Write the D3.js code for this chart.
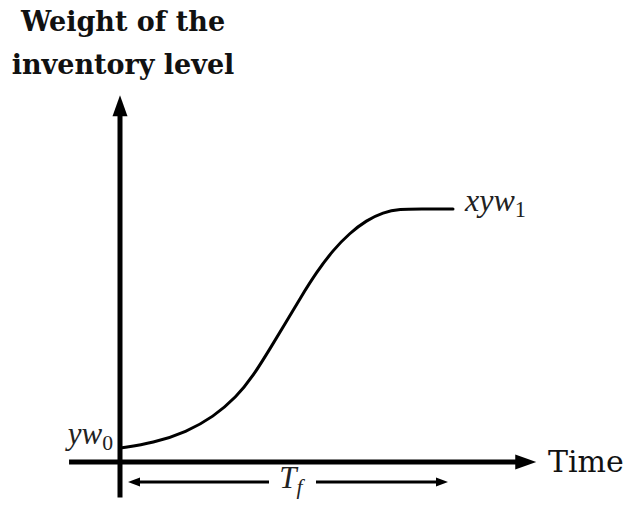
<!DOCTYPE html>
<html>
<head>
<meta charset="utf-8">
<script src="https://cdn.jsdelivr.net/npm/d3@7"></script>
<style>
  html, body { margin: 0; padding: 0; background: #fff; }
  svg { display: block; }
</style>
</head>
<body>
<svg id="chart" width="626" height="508"></svg>
<script>
// Normalised time (0 = start, 1 = end of ramp) and inventory weight (1 = plateau level)
const timePoints   = [0, 0.10, 0.20, 0.28, 0.35, 0.40, 0.45, 0.50, 0.54, 0.59, 0.64, 0.69, 0.74, 0.79, 0.84, 0.90, 1.00];
const weightPoints = [0.055, 0.075, 0.119, 0.178, 0.257, 0.340, 0.447, 0.555, 0.645, 0.750, 0.838, 0.905, 0.955, 0.987, 1.0, 1.0, 1.0];

// Axis extents and the span covered by the T_f arrow, in the same units
const timeAxisExtent   = [-0.153, 1.25];
const weightAxisExtent = [-0.14, 1.45];
const tfSpan           = [0, 0.985];

const titleLines = ["Weight of the", "inventory level"];
const timeLabel  = "Time";

const svg = d3.select("#chart");

const x = d3.scaleLinear().domain([0, 1]).range([120, 453]);
const y = d3.scaleLinear().domain([0, 1]).range([462, 209]);

const ink = "#000";

// filled arrowhead triangle pointing in direction (dx, dy)
function arrowHead(g, tipX, tipY, dx, dy, len, half) {
  const bx = tipX - dx * len, by = tipY - dy * len;
  const px = -dy * half, py = dx * half;
  g.append("path")
    .attr("d", `M${tipX},${tipY}L${bx + px},${by + py}L${bx - px},${by - py}Z`)
    .attr("fill", ink);
}

// vertical axis
const yTop = y(weightAxisExtent[1]);
svg.append("line")
  .attr("x1", x(0)).attr("x2", x(0))
  .attr("y1", y(weightAxisExtent[0])).attr("y2", yTop + 16)
  .attr("stroke", ink).attr("stroke-width", 5);
arrowHead(svg, x(0), yTop, 0, -1, 21, 7.5);

// horizontal axis
const xRight = x(timeAxisExtent[1]);
svg.append("line")
  .attr("x1", x(timeAxisExtent[0])).attr("x2", xRight - 16)
  .attr("y1", y(0)).attr("y2", y(0))
  .attr("stroke", ink).attr("stroke-width", 5);
arrowHead(svg, xRight, y(0), 1, 0, 21, 7.5);

// growth curve
const line = d3.line()
  .x((d, i) => x(timePoints[i]))
  .y(d => y(d))
  .curve(d3.curveBasis);
svg.append("path")
  .datum(weightPoints)
  .attr("d", line)
  .attr("fill", "none")
  .attr("stroke", ink)
  .attr("stroke-width", 3)
  .attr("stroke-linecap", "round");

// T_f double arrow below the time axis
const tfY = y(0) + 20;
const tfL = x(tfSpan[0]) + 8, tfR = x(tfSpan[1]);
const tfMid = 291;
svg.append("line")
  .attr("x1", tfL + 10).attr("x2", tfMid - 22)
  .attr("y1", tfY).attr("y2", tfY)
  .attr("stroke", ink).attr("stroke-width", 3);
svg.append("line")
  .attr("x1", tfMid + 25).attr("x2", tfR - 10)
  .attr("y1", tfY).attr("y2", tfY)
  .attr("stroke", ink).attr("stroke-width", 3);
arrowHead(svg, tfL, tfY, -1, 0, 12, 4.5);
arrowHead(svg, tfR, tfY, 1, 0, 12, 4.5);

// title
svg.append("text")
  .attr("x", 123).attr("text-anchor", "middle")
  .attr("font-family", "DejaVu Serif").attr("font-weight", "bold")
  .attr("font-size", 27).attr("fill", "#111")
  .selectAll("tspan").data(titleLines).join("tspan")
  .attr("x", 123)
  .attr("y", (d, i) => 31 + i * 43)
  .text(d => d);

// axis label
svg.append("text")
  .attr("x", 548).attr("y", 472)
  .attr("font-family", "DejaVu Serif").attr("font-size", 30)
  .attr("fill", "#111")
  .text(timeLabel);

// math labels
function mathLabel(xPos, yPos, anchor, main, sub, subItalic, size) {
  const t = svg.append("text")
    .attr("x", xPos).attr("y", yPos)
    .attr("text-anchor", anchor)
    .attr("font-family", "Liberation Serif")
    .attr("font-size", size)
    .attr("fill", "#222");
  t.append("tspan").attr("font-style", "italic").text(main);
  t.append("tspan")
    .attr("font-size", size * 0.7)
    .attr("dy", 6)
    .attr("font-style", subItalic ? "italic" : "normal")
    .text(sub);
  return t;
}
mathLabel(113, 444, "end", "yw", "0", false, 31);
mathLabel(465, 211, "start", "xyw", "1", false, 32);
mathLabel(tfMid, 488, "middle", "T", "f", true, 31);
</script>
</body>
</html>
